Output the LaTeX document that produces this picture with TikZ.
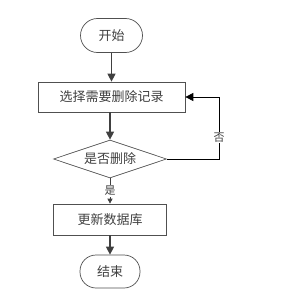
\documentclass[tikz,border=0pt]{standalone}
\usepackage{fontspec}
\setmainfont{Noto Sans CJK SC}
\usetikzlibrary{shapes.geometric,arrows.meta}
\definecolor{linec}{HTML}{404040}
\definecolor{borderc}{HTML}{505050}
\tikzset{
  term/.style={draw=borderc,line width=0.7pt,rounded corners=17pt,minimum width=62pt,minimum height=34pt,font=\fontsize{13}{15}\selectfont,text=black!75},
  procbox/.style={draw=borderc,line width=0.7pt,rectangle,font=\fontsize{13}{15}\selectfont,text=black!75},
  decide/.style={draw=borderc,line width=0.7pt,diamond,aspect=3,inner sep=0pt,minimum width=113pt,minimum height=38pt,font=\fontsize{13}{15}\selectfont,text=black!75},
  conn/.style={draw=linec,line width=1.2pt,-{Triangle[length=8pt,width=8pt]}},
  thin conn/.style={draw=linec,line width=0.8pt,-{Triangle[length=5pt,width=5pt]}},
  lbl/.style={font=\fontsize{11}{13}\selectfont,text=black!75,fill=white,inner sep=1pt}
}
\begin{document}
\begin{tikzpicture}[x=1pt,y=-1pt]
\useasboundingbox (0,0) rectangle (284,305);
\node[term] (start) at (111.5,35.5) {开始};
\node[procbox,minimum width=147pt,minimum height=30pt] (select) at (111.5,97) {选择需要删除记录};
\node[decide] (dec) at (110,159) {是否删除};
\node[procbox,minimum width=113pt,minimum height=31pt] (upd) at (110,219.5) {更新数据库};
\node[term,minimum width=60pt,minimum height=33pt,rounded corners=16pt] (end) at (110,271.5) {结束};
\coordinate (c1) at (219,159);
\coordinate (c2) at (219,97);
\draw[conn] (start) -- (select);
\draw[conn] (select.south -| dec.north) -- (dec.north);
\draw[thin conn] (dec.south) -- node[lbl,pos=0.5] {是} (upd.north);
\draw[conn] (upd) -- (end);
\draw[draw=black,line width=0.8pt] (dec.east) -- (c1) -- node[lbl,pos=0.35] {否} (c2);
\draw[draw=black,line width=0.8pt,-{Triangle[length=8pt,width=8pt]}] (c2) -- (select.east);
\end{tikzpicture}
\end{document}
